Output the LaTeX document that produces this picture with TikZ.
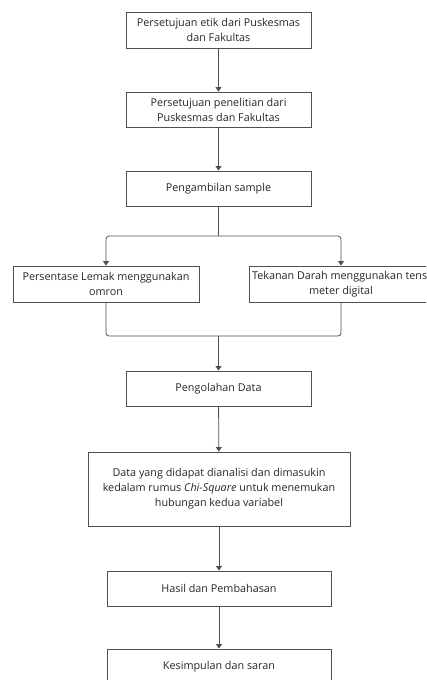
\documentclass[tikz,border=0pt]{standalone}
\usepackage{fontspec}
\setmainfont{Open Sans}
\usepackage{xcolor}
\usepackage{tikz}
\usetikzlibrary{arrows.meta}

\definecolor{garis}{HTML}{505050}
\tikzset{
  kotak/.style={draw=garis,line width=0.9pt,align=center,inner sep=2pt,
    font=\fontsize{10.8}{15}\selectfont,text=black!85},
  panah/.style={draw=garis,line width=0.8pt,-{Triangle[width=6pt,length=4.5pt]}},
  sambung/.style={draw=garis,line width=0.8pt,rounded corners=3pt}
}

\begin{document}
\begin{tikzpicture}[x=1pt,y=-1pt]
\useasboundingbox(0,0)rectangle(426,680);
\clip(0,0)rectangle(426,680);

\node[kotak,minimum width=185pt,minimum height=36pt](etik)at(218.5,30){Persetujuan etik dari Puskesmas\\dan Fakultas};
\node[kotak,minimum width=185pt,minimum height=35pt](izin)at(218.5,109.5){Persetujuan penelitian dari\\Puskesmas dan Fakultas};
\node[kotak,minimum width=185pt,minimum height=35pt](sampel)at(218.5,188.5){Pengambilan sample};

\node[kotak,minimum width=186pt,minimum height=36pt](lemak)at(106,284){Persentase Lemak menggunakan\\omron};
\node[kotak,minimum width=184pt,minimum height=36pt](tensi)at(341,284){Tekanan Darah menggunakan tensi\\meter digital};

\node[kotak,minimum width=185pt,minimum height=35pt](olah)at(218.5,388.5){Pengolahan Data};
\node[kotak,minimum width=262pt,minimum height=74pt](analisis)at(219,489){Data yang didapat dianalisi dan dimasukin\\kedalam rumus \textit{Chi-Square} untuk menemukan\\hubungan kedua variabel};
\node[kotak,minimum width=224pt,minimum height=35pt](hasil)at(219,588.5){Hasil dan Pembahasan};
\node[kotak,minimum width=224pt,minimum height=35pt](simpul)at(219,666.5){Kesimpulan dan saran};

\coordinate(cabang)at(218.5,236);
\coordinate(gabung)at(218.5,336);

\draw[panah](etik)--(izin);
\draw[panah](izin)--(sampel);
\draw[sambung](sampel.south)--(cabang);
\draw[sambung,panah](cabang)-|(lemak.north);
\draw[sambung,panah](cabang)-|(tensi.north);
\draw[sambung](lemak.south)|-(gabung);
\draw[sambung](tensi.south)|-(gabung);
\draw[panah](gabung)--(olah);
\draw[panah](olah)--(analisis);
\draw[panah](analisis)--(hasil);
\draw[panah](hasil)--(simpul);
\end{tikzpicture}
\end{document}
